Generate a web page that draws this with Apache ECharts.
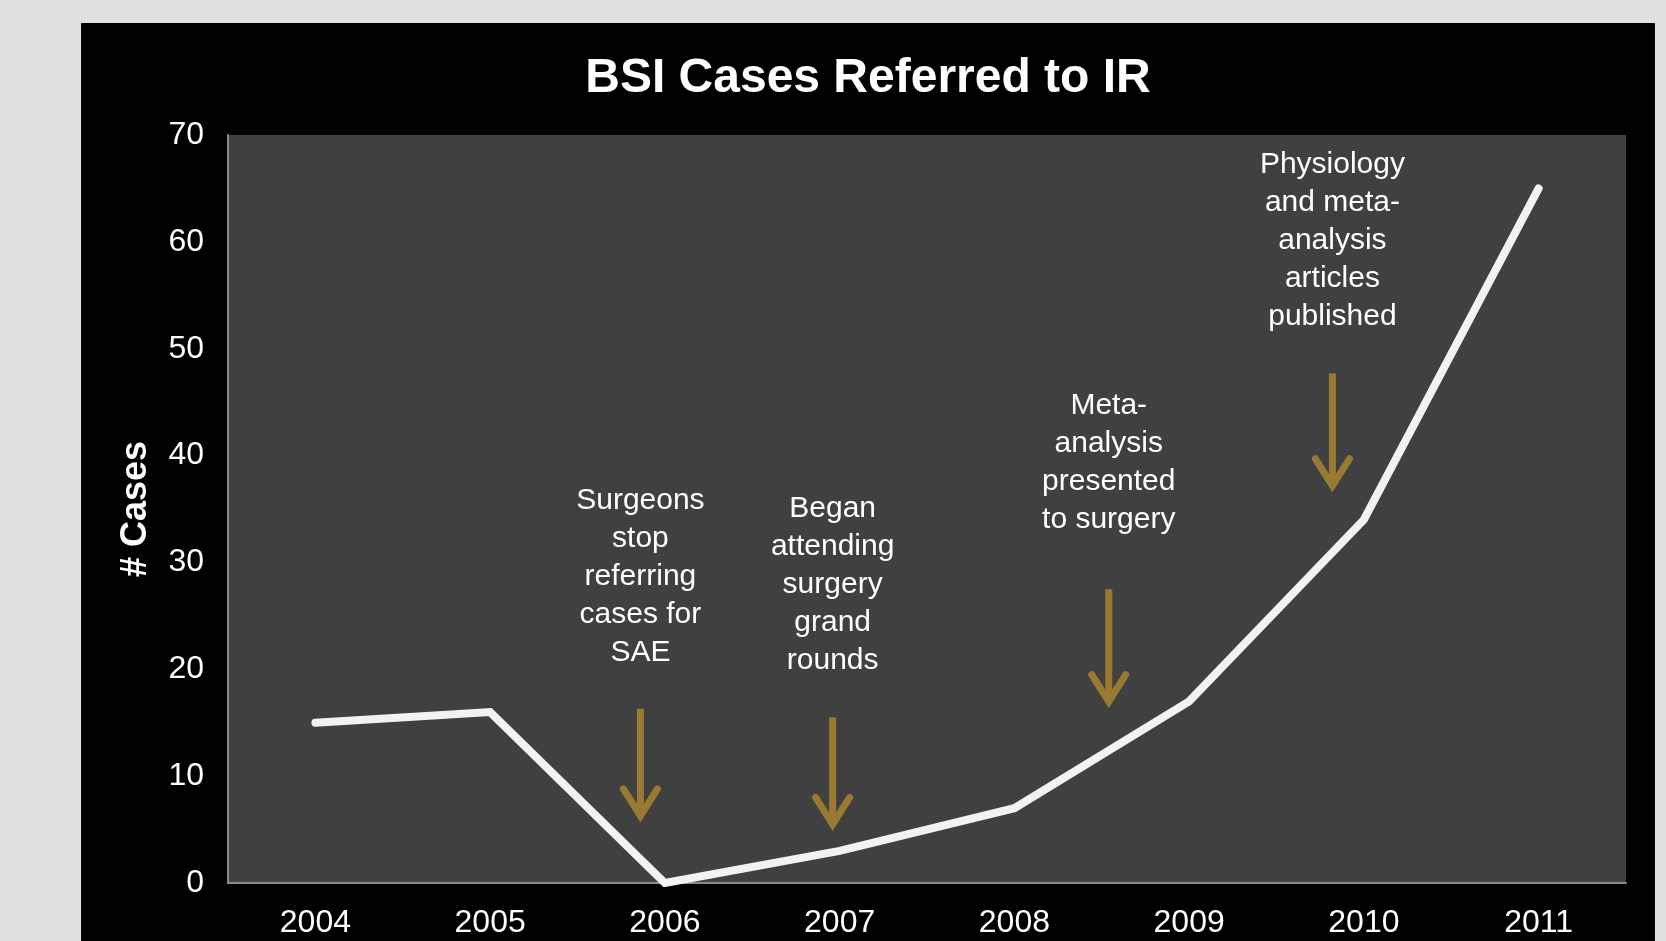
<!DOCTYPE html>
<html>
<head>
<meta charset="utf-8">
<script src="https://cdn.jsdelivr.net/npm/echarts@6/dist/echarts.min.js"></script>
<style>
  html, body { margin: 0; padding: 0; background: #e0e0e0; }
  #main { position: absolute; left: 81px; top: 23px; width: 1574px; height: 918px; }
</style>
</head>
<body>
<div id="main"></div>
<script>
// yearly referrals
const years = ['2004', '2005', '2006', '2007', '2008', '2009', '2010', '2011'];
const cases = [15, 16, 0, 3, 7, 17, 34, 65];

// annotations: x in category index units, y in # cases
const noteX = [1.86, 2.96, 4.54, 5.82];
const arrowFrom = [16.3, 15.5, 27.5, 47.7];
const arrowTo = [5.9, 5.1, 16.6, 36.8];
const noteFirstLine = [35.9, 35.1, 44.8, 67.3];
const notes = [
  'Surgeons\nstop\nreferring\ncases for\nSAE',
  'Began\nattending\nsurgery\ngrand\nrounds',
  'Meta-\nanalysis\npresented\nto surgery',
  'Physiology\nand meta-\nanalysis\narticles\npublished'
];

const font = "'Liberation Sans', Arial, sans-serif";
const gold = '#9a7a33';

const chart = echarts.init(document.getElementById('main'));

chart.setOption({
  backgroundColor: '#000',
  animation: false,
  title: {
    text: 'BSI Cases Referred to IR',
    left: 'center',
    top: 27,
    textStyle: { color: '#fff', fontSize: 48, fontWeight: 'bold', fontFamily: font }
  },
  grid: {
    left: 147, right: 29, top: 112, bottom: 58,
    show: true, backgroundColor: '#404040', borderWidth: 0
  },
  xAxis: [
    {
      type: 'category',
      data: years,
      axisLine: { lineStyle: { color: '#8a8a8a', width: 2 } },
      axisTick: { show: false },
      axisLabel: { color: '#fff', fontSize: 32, fontFamily: font, margin: 24 }
    },
    { type: 'value', min: -0.5, max: 7.5, show: false }
  ],
  yAxis: {
    type: 'value',
    min: 0, max: 70, interval: 10,
    name: '# Cases',
    nameLocation: 'middle',
    nameGap: 74,
    nameTextStyle: { color: '#fff', fontSize: 36, fontWeight: 'bold', fontFamily: font },
    axisLine: { show: true, onZero: false, lineStyle: { color: '#8a8a8a', width: 2 } },
    axisTick: { show: false },
    splitLine: { show: false },
    axisLabel: { color: '#fff', fontSize: 32, fontFamily: font, margin: 24 }
  },
  series: [
    {
      type: 'line',
      data: cases,
      showSymbol: false,
      lineStyle: { color: '#f2f2f2', width: 8, cap: 'round', join: 'miter' }
    },
    {
      type: 'custom',
      xAxisIndex: 1,
      silent: true,
      clip: false,
      data: noteX.map((x, i) => [x, arrowFrom[i], arrowTo[i], noteFirstLine[i]]),
      renderItem: function (params, api) {
        const i = params.dataIndex;
        const top = api.coord([api.value(0), api.value(1)]);
        const tip = api.coord([api.value(0), api.value(2)]);
        const txt = api.coord([api.value(0), api.value(3)]);
        return {
          type: 'group',
          children: [
            {
              type: 'line',
              shape: { x1: top[0], y1: top[1], x2: tip[0], y2: tip[1] - 8 },
              style: { stroke: gold, lineWidth: 7 }
            },
            {
              type: 'polyline',
              shape: { points: [[tip[0] - 17, tip[1] - 31], [tip[0], tip[1] - 4], [tip[0] + 17, tip[1] - 31]] },
              style: { stroke: gold, lineWidth: 7, fill: null, lineCap: 'round', lineJoin: 'miter' }
            },
            {
              type: 'text',
              style: {
                text: notes[i],
                x: txt[0], y: txt[1] - 18,
                align: 'center', verticalAlign: 'top',
                fill: '#fff', fontSize: 30, fontFamily: font, lineHeight: 38
              }
            }
          ]
        };
      }
    }
  ]
});
</script>
</body>
</html>
